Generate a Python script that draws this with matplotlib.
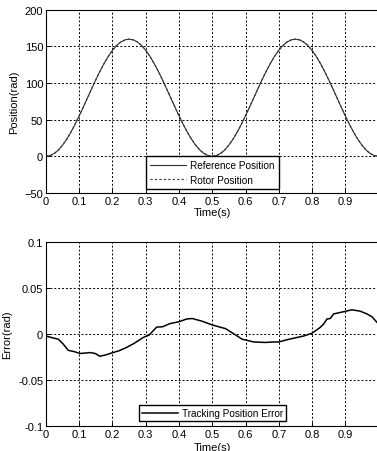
import numpy as np
import matplotlib
matplotlib.use("Agg")
import matplotlib.pyplot as plt

plt.rcParams['font.family'] = ['Liberation Sans', 'DejaVu Sans']

# position trajectory (rad), every 0.0125 s
t_pos = [0.0, 0.0125, 0.025, 0.0375, 0.05, 0.0625, 0.075, 0.0875, 0.1, 0.1125,
         0.125, 0.1375, 0.15, 0.1625, 0.175, 0.1875, 0.2, 0.2125, 0.225, 0.2375,
         0.25, 0.2625, 0.275, 0.2875, 0.3, 0.3125, 0.325, 0.3375, 0.35, 0.3625,
         0.375, 0.3875, 0.4, 0.4125, 0.425, 0.4375, 0.45, 0.4625, 0.475, 0.4875,
         0.5, 0.5125, 0.525, 0.5375, 0.55, 0.5625, 0.575, 0.5875, 0.6, 0.6125,
         0.625, 0.6375, 0.65, 0.6625, 0.675, 0.6875, 0.7, 0.7125, 0.725, 0.7375,
         0.75, 0.7625, 0.775, 0.7875, 0.8, 0.8125, 0.825, 0.8375, 0.85, 0.8625,
         0.875, 0.8875, 0.9, 0.9125, 0.925, 0.9375, 0.95, 0.9625, 0.975, 0.9875, 1.0]
ref_pos = [0.0, 1.0, 3.9, 8.6, 15.3, 23.4, 33.0, 43.7, 55.3, 67.5,
           80.0, 92.5, 104.7, 116.3, 127.0, 136.6, 144.7, 151.4, 156.1, 159.0,
           160.0, 159.0, 156.1, 151.4, 144.7, 136.6, 127.0, 116.3, 104.7, 92.5,
           80.0, 67.5, 55.3, 43.7, 33.0, 23.4, 15.3, 8.6, 3.9, 1.0,
           0.0, 1.0, 3.9, 8.6, 15.3, 23.4, 33.0, 43.7, 55.3, 67.5,
           80.0, 92.5, 104.7, 116.3, 127.0, 136.6, 144.7, 151.4, 156.1, 159.0,
           160.0, 159.0, 156.1, 151.4, 144.7, 136.6, 127.0, 116.3, 104.7, 92.5,
           80.0, 67.5, 55.3, 43.7, 33.0, 23.4, 15.3, 8.6, 3.9, 1.0, 0.0]
# rotor position lies on top of the reference curve
rotor_pos = list(ref_pos)

# tracking error (rad)
t_err = [0.0, 0.02, 0.037, 0.05, 0.067, 0.085, 0.102, 0.12, 0.132, 0.148, 0.162,
         0.18, 0.202, 0.22, 0.242, 0.265, 0.293, 0.31, 0.333, 0.35, 0.373, 0.4,
         0.423, 0.44, 0.47, 0.5, 0.54, 0.575, 0.59, 0.625, 0.66, 0.685, 0.7,
         0.725, 0.75, 0.775, 0.8, 0.825, 0.835, 0.845, 0.855, 0.865, 0.89,
         0.92, 0.945, 0.965, 0.98, 0.995, 1.0]
err = [-0.002, -0.004, -0.0055, -0.010, -0.0176, -0.019, -0.021, -0.0205, -0.020, -0.021, -0.024,
       -0.0225, -0.020, -0.018, -0.0145, -0.010, -0.0035, -0.001, 0.0077, 0.008, 0.0115, 0.0135,
       0.0165, 0.017, 0.014, 0.010, 0.006, -0.002, -0.0055, -0.0085, -0.009, -0.0085, -0.0085,
       -0.006, -0.004, -0.002, 0.001, 0.0074, 0.011, 0.0165, 0.017, 0.022, 0.024,
       0.0265, 0.025, 0.022, 0.019, 0.013, 0.011]

xticks = [0, 0.1, 0.2, 0.3, 0.4, 0.5, 0.6, 0.7, 0.8, 0.9]
xticklabels = ['0', '0.1', '0.2', '0.3', '0.4', '0.5', '0.6', '0.7', '0.8', '0.9']
pos_ticks = [-50, 0, 50, 100, 150, 200]
err_ticks = [-0.1, -0.05, 0, 0.05, 0.1]
err_ticklabels = ['-0.1', '-0.05', '0', '0.05', '0.1']

fig = plt.figure(figsize=(3.77, 4.52), dpi=100)
ax1 = fig.add_axes([0.122, 0.571, 0.882, 0.405])
ax2 = fig.add_axes([0.122, 0.055, 0.882, 0.407])

grid_style = dict(color='black', linestyle=(0, (2, 2)), linewidth=0.7)
leg_style = dict(loc='lower center', fontsize=7.2, fancybox=False, edgecolor='black',
                 framealpha=1, handlelength=3.6, handletextpad=0.4, borderaxespad=0)

# top: position
ax1.plot(t_pos, ref_pos, color='#333333', lw=0.8, label='Reference Position')
ax1.plot(t_pos, rotor_pos, color='#333333', lw=0.8, ls=(0, (2, 2)), label='Rotor Position')
ax1.set_xlim(0, 1)
ax1.set_ylim(-50, 200)
ax1.set_xticks(xticks)
ax1.set_xticklabels(xticklabels)
ax1.set_yticks(pos_ticks)
ax1.grid(True, **grid_style)
ax1.set_xlabel('Time(s)', fontsize=8, labelpad=1)
ax1.set_ylabel('Position(rad)', fontsize=8, labelpad=4)
ax1.legend(bbox_to_anchor=(0.5, 0.02), borderpad=0.45, labelspacing=0.45, **leg_style)

# bottom: error
ax2.plot(t_err, err, color='black', lw=1.1, label='Tracking Position Error')
ax2.set_xlim(0, 1)
ax2.set_ylim(-0.1, 0.1)
ax2.set_xticks(xticks)
ax2.set_xticklabels(xticklabels)
ax2.set_yticks(err_ticks)
ax2.set_yticklabels(err_ticklabels)
ax2.grid(True, **grid_style)
ax2.set_xlabel('Time(s)', fontsize=8, labelpad=2)
ax2.set_ylabel('Error(rad)', fontsize=8, labelpad=4)
ax2.legend(bbox_to_anchor=(0.5, 0.027), borderpad=0.3, **leg_style)

for ax in (ax1, ax2):
    ax.tick_params(direction='in', length=3, labelsize=8, pad=2, width=0.7)
    for s in ax.spines.values():
        s.set_linewidth(0.8)

fig.savefig('out.png', dpi=100)
